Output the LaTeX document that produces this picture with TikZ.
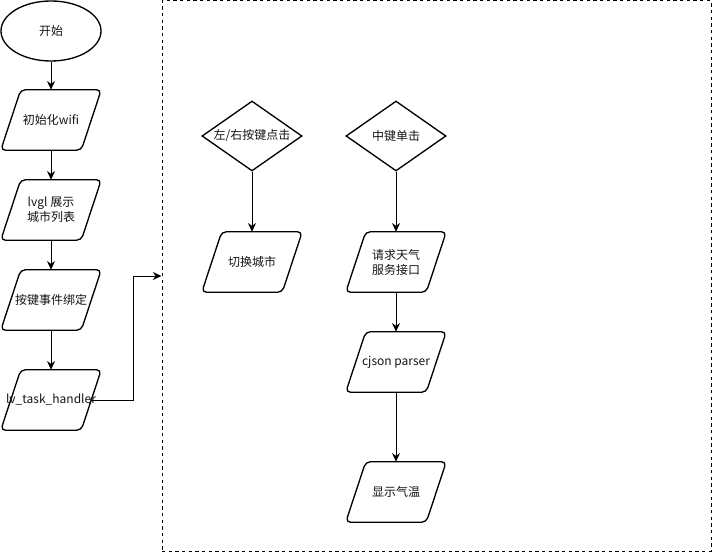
\documentclass[tikz,border=0pt]{standalone}
\usepackage{fontspec}
\setmainfont{Noto Sans CJK SC}
\usepackage{xcolor}
\usepackage{tikz}
\usetikzlibrary{shapes.geometric, arrows.meta, positioning}
\definecolor{inkgray}{RGB}{20, 20, 20}
\tikzstyle{terminal} = [
    ellipse,
    minimum width=75pt,
    minimum height=45pt,
    draw=black,
    line width=1pt,
    text=inkgray,
    font=\fontsize{9pt}{11pt}\selectfont
]
\tikzstyle{io} = [
    rectangle,
    minimum width=75pt,
    minimum height=45pt,
    inner sep=0pt,
    align=center,
    text=inkgray,
    font=\fontsize{9pt}{11.25pt}\selectfont,
    append after command={
        \pgfextra{
            \draw[line width=1pt, rounded corners=3.5pt]
                ([xshift=15pt]\tikzlastnode.north west) -- (\tikzlastnode.north east)
                -- ([xshift=-15pt]\tikzlastnode.south east) -- (\tikzlastnode.south west)
                -- cycle;
        }
    }
]
\tikzstyle{decision} = [
    diamond,
    aspect=1.43,
    minimum width=75pt,
    minimum height=52.5pt,
    inner sep=0pt,
    draw=black,
    line width=1pt,
    text=inkgray,
    font=\fontsize{9pt}{11pt}\selectfont
]
\tikzstyle{container} = [
    rectangle,
    minimum width=411.75pt,
    minimum height=412.5pt,
    draw=black,
    line width=0.75pt,
    dash pattern=on 2.5pt off 2.5pt
]
\tikzstyle{arrow} = [
    line width=0.75pt,
    -{Stealth[length=6.5pt, width=6pt]},
    color=black
]

\begin{document}
\begin{tikzpicture}[x=0.75pt, y=-0.75pt, node distance=67.5pt]
        \useasboundingbox (0,0) rectangle (712,552);
        % main flow
        \node[terminal] (start) at (51,31) {开始};
        \node[io, below of=start, yshift=0.75pt] (wifi) {初始化wifi};
        \node[io, below of=wifi] (lvgl) {lvgl 展示\\城市列表};
        \node[io, below of=lvgl] (bind) {按键事件绑定};
        \node[io, below of=bind, yshift=-7.5pt] (handler) {lv\_task\_handler};

        % key events
        \node[container] (panel) at (436.5,276) {};
        \node[decision] (lrkey) at (252,136) {左/右按键点击};
        \node[decision] (midkey) at (396,136) {中键单击};
        \node[io, below of=lrkey, yshift=-27pt] (switch) {切换城市};
        \node[io, below of=midkey, yshift=-27pt] (request) {请求天气\\服务接口};
        \node[io, below of=request, yshift=-7.5pt] (cjson) {cjson parser};
        \node[io, below of=cjson, yshift=-30pt] (show) {显示气温};

        \draw[arrow] (start) -- (wifi);
        \draw[arrow] (wifi) -- (lvgl);
        \draw[arrow] (lvgl) -- (bind);
        \draw[arrow] (bind) -- (handler);
        \draw[arrow] ([xshift=-7.5pt]handler.east) -- ++(42,0) |- (panel.west);
        \draw[arrow] (lrkey) -- (switch);
        \draw[arrow] (midkey) -- (request);
        \draw[arrow] (request) -- (cjson);
        \draw[arrow] (cjson) -- (show);
    \end{tikzpicture}
\end{document}
